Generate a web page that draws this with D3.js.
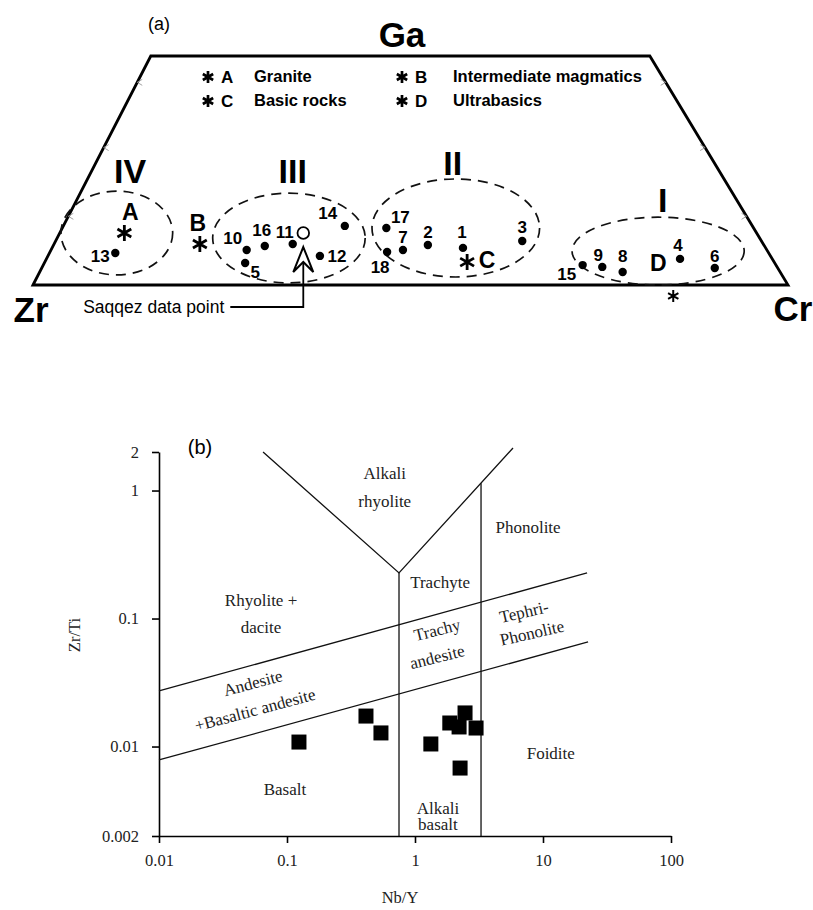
<!DOCTYPE html>
<html><head><meta charset="utf-8">
<script src="https://cdn.jsdelivr.net/npm/d3@7"></script>
<style>body{margin:0;background:#fff}</style>
</head><body>
<svg id="c" width="813" height="910"></svg>
<script>
// ================= DATA =================
// ---- Panel (a): Zr–Ga–Cr diagram, positions in diagram units (u along Zr→Cr base, v up toward Ga) ----
const frameCorners = [[0,0],[15.6,100],[81.7,100],[100,0]];
const sampleIds = ["1","2","3","4","5","6","7","8","9","10","11","12","13","14","15","16","17","18"];
const sampleU   = [56.95,52.3,64.8,85.7,28.1,90.3,49.0,78.1,75.4,28.3,34.4,38.0,10.9,41.3,72.8,30.7,46.8,46.9];
const sampleV   = [16.2,17.5,19.2,11.4,9.6,7.4,15.3,5.7,7.9,15.3,17.9,12.7,14.0,25.8,8.7,17.0,24.9,14.4];
const refIds = ["A","B","C","D"];
const refU   = [12.1,22.1,57.5,84.8];
const refV   = [22.7,17.9,10.0,-4.8];
const legendLetters = ["A","C","B","D"];
const legendNames   = ["Granite","Basic rocks","Intermediate magmatics","Ultrabasics"];
const fieldNames = ["IV","III","II","I"];
const fieldCU = [11.1,33.9,56.0,82.8];
const fieldCV = [22.7,20.5,24.9,14.8];
const fieldRU = [7.4,10.1,11.1,11.4];
const fieldRV = [18.3,19.6,21.4,14.8];
const saqqez = [35.8,22.7];

// ---- Panel (b): Zr/Ti vs Nb/Y ----
const nbY  = [0.124,0.414,0.542,1.33,1.87,2.46,2.21,3.0,2.25];
const zrTi = [0.01084,0.0173,0.01277,0.01047,0.01527,0.0183,0.01422,0.01395,0.00679];
const xTicks = [0.01,0.1,1,10,100];
const yTicks = [0.002,0.01,0.1,1,2];
const upperDiag = [[0.01,0.0272],[22.1,0.227]];
const lowerDiag = [[0.01,0.00785],[22.5,0.0656]];
const vLine     = [[0.065,2.0],[0.75,0.227],[5.83,2.15]];
const leftVert  = [[0.75,0.227],[0.75,0.002]];
const rightVert = [[3.28,1.14],[3.28,0.002]];
const fieldText = ["Alkali","rhyolite","Phonolite","Trachyte","Rhyolite +","dacite","Trachy","andesite","Tephri-","Phonolite","Andesite","+Basaltic andesite","Basalt","Alkali","basalt","Foidite"];
const fieldX    = [0.58,0.58,7.64,1.57,0.0627,0.0627,1.49,1.49,7.11,8.2,0.0542,0.0562,0.0964,1.51,1.51,11.5];
const fieldY    = [1.37,0.828,0.519,0.19,0.1396,0.0859,0.0813,0.05,0.1125,0.077,0.0313,0.0193,0.00466,0.00331,0.00248,0.0089];
const fieldRot  = [0,0,0,0,0,0,-14,-14,-13,-13,-15,-15,0,0,0,0];

// ================= DRAW =================
const svg = d3.select("#c");
const SANS = "'Liberation Sans', Arial, Helvetica, sans-serif";
const SERIF = "'Liberation Serif', 'Times New Roman', serif";

// ---------- Panel (a) ----------
const u = d3.scaleLinear().domain([0,100]).range([33,788]);
const v = d3.scaleLinear().domain([0,100]).range([285,56]);
const A = svg.append("g");

A.append("text").attr("x",159).attr("y",30).attr("text-anchor","middle")
 .attr("font-family",SANS).attr("font-size",18).text("(a)");

A.append("path")
 .attr("d", d3.line().x(d=>u(d[0])).y(d=>v(d[1]))(frameCorners)+"Z")
 .attr("fill","none").attr("stroke","#000").attr("stroke-width",2.8).attr("stroke-linejoin","miter");

// small gray arrow marks along the sides
[30,60,88.5].forEach(t=>{
  const fL = t/100;
  const lx = u(frameCorners[0][0] + (frameCorners[1][0]-frameCorners[0][0])*fL), ly = v(t);
  A.append("path").attr("d",`M${lx+5},${ly-3}L${lx},${ly}L${lx+5},${ly+3}`)
   .attr("fill","none").attr("stroke","#999").attr("stroke-width",0.9);
  const rx = u(frameCorners[3][0] + (frameCorners[2][0]-frameCorners[3][0])*fL), ry = v(t);
  A.append("path").attr("d",`M${rx-5},${ry-3}L${rx},${ry}L${rx-5},${ry+3}`)
   .attr("fill","none").attr("stroke","#999").attr("stroke-width",0.9);
});

// apex labels
A.append("text").attr("x",402).attr("y",47).attr("text-anchor","middle")
 .attr("font-family",SANS).attr("font-weight","bold").attr("font-size",35).text("Ga");
A.append("text").attr("x",31).attr("y",322).attr("text-anchor","middle")
 .attr("font-family",SANS).attr("font-weight","bold").attr("font-size",35).text("Zr");
A.append("text").attr("x",793).attr("y",321).attr("text-anchor","middle")
 .attr("font-family",SANS).attr("font-weight","bold").attr("font-size",35).text("Cr");

// legend
const legX = [208,208,402,402], legY = [77,101,77,101];
legendLetters.forEach((L,i)=>{
  A.append("path").attr("transform",`translate(${legX[i]},${legY[i]})`)
   .attr("d", d3.symbol(d3.symbolAsterisk, 100)()).attr("stroke","#000").attr("stroke-width",2.7).attr("fill","none");
  A.append("text").attr("x",legX[i]+13).attr("y",legY[i]+6).attr("font-family",SANS)
   .attr("font-weight","bold").attr("font-size",17).text(L);
  A.append("text").attr("x",legX[i]+46+(i>1?5:0)).attr("y",legY[i]+5).attr("font-family",SANS)
   .attr("font-weight","bold").attr("font-size",16.5).text(legendNames[i]);
});

// field ellipses
A.selectAll("ellipse.field").data(fieldNames).join("ellipse").attr("class","field")
 .attr("cx",(d,i)=>u(fieldCU[i])).attr("cy",(d,i)=>v(fieldCV[i]))
 .attr("rx",(d,i)=>u(fieldRU[i])-u(0)).attr("ry",(d,i)=>v(0)-v(fieldRV[i]))
 .attr("fill","none").attr("stroke","#111").attr("stroke-width",1.7).attr("stroke-dasharray","10,7");

// field labels (above ellipses)
const fieldLabU = [12.85,34.4,55.6,83.4], fieldLabV = [49.8,49.8,53.3,37.1];
fieldNames.forEach((n,i)=>{
  A.append("text").attr("x",u(fieldLabU[i])).attr("y",v(fieldLabV[i])+12).attr("text-anchor","middle")
   .attr("font-family",SANS).attr("font-weight","bold").attr("font-size",34).text(n);
});

// sample points
A.selectAll("circle.s").data(sampleIds).join("circle").attr("class","s")
 .attr("cx",(d,i)=>u(sampleU[i])).attr("cy",(d,i)=>v(sampleV[i])).attr("r",4.2).attr("fill","#000");
const numOff = {"1":[-1,-16],"2":[0,-13],"3":[0,-14],"4":[-2,-14],"5":[10,9],"6":[0,-12],"7":[0,-13],"8":[0,-16],
  "9":[-4,-12],"10":[-14,-12],"11":[-8,-12],"12":[17,0],"13":[-15,3],"14":[-17,-13],"15":[-16,9],"16":[-3,-16],"17":[14,-11],"18":[-7,15]};
sampleIds.forEach((id,i)=>{
  const o = numOff[id];
  A.append("text").attr("x",u(sampleU[i])+o[0]).attr("y",v(sampleV[i])+o[1]+6).attr("text-anchor","middle")
   .attr("font-family",SANS).attr("font-weight","bold").attr("font-size",17).text(id);
});

// reference compositions
const refSize = [180,180,180,100];
refIds.forEach((id,i)=>{
  A.append("path").attr("transform",`translate(${u(refU[i])},${v(refV[i])})`)
   .attr("d", d3.symbol(d3.symbolAsterisk, refSize[i])()).attr("stroke","#000")
   .attr("stroke-width", i===3?2:2.8).attr("fill","none");
});
const refOff = [[6,-21],[-2,-21],[20,-2],[-15,-33]];
refIds.forEach((id,i)=>{
  A.append("text").attr("x",u(refU[i])+refOff[i][0]).attr("y",v(refV[i])+refOff[i][1]+8).attr("text-anchor","middle")
   .attr("font-family",SANS).attr("font-weight","bold").attr("font-size",23).text(id);
});

// Saqqez point and annotation
const sx = u(saqqez[0]), sy = v(saqqez[1]);
A.append("path").attr("d",`M${sx},${sy+29}L${sx},${sy+74}L${sx-73},${sy+74}`)
 .attr("fill","none").attr("stroke","#000").attr("stroke-width",1.8);
A.append("path").attr("d",`M${sx},${sy+14}L${sx+10},${sy+39}L${sx},${sy+29}L${sx-10},${sy+39}Z`)
 .attr("fill","#fff").attr("stroke","#000").attr("stroke-width",2).attr("stroke-linejoin","miter");
A.append("circle").attr("cx",sx).attr("cy",sy).attr("r",5.8).attr("fill","#fff").attr("stroke","#000").attr("stroke-width",1.8);
A.append("text").attr("x",sx-79).attr("y",sy+80).attr("text-anchor","end")
 .attr("font-family",SANS).attr("font-size",17.5).text("Saqqez data point");

// ---------- Panel (b) ----------
const x = d3.scaleLog().domain([0.01,100]).range([159,671]);
const y = d3.scaleLog().domain([0.002,2]).range([836,452]);
const B = svg.append("g");

B.append("text").attr("x",200).attr("y",454).attr("text-anchor","middle")
 .attr("font-family",SANS).attr("font-size",20).text("(b)");

const fmt = d => String(d);
const gx = B.append("g").attr("transform","translate(0,836)")
 .call(d3.axisBottom(x).tickValues(xTicks).tickFormat(fmt).tickSize(7).tickSizeOuter(0).tickPadding(11));
const gy = B.append("g").attr("transform","translate(159,0)")
 .call(d3.axisLeft(y).tickValues(yTicks).tickFormat(fmt).tickSize(7).tickSizeOuter(0).tickPadding(13));
[gx,gy].forEach(g=>{
  g.selectAll("path,line").attr("stroke","#000").attr("stroke-width",1.6);
  g.selectAll("text").attr("font-family",SERIF).attr("font-size",16.5).attr("fill","#222");
});

const ll = d3.line().x(d=>x(d[0])).y(d=>y(d[1]));
[upperDiag,lowerDiag,vLine,leftVert,rightVert].forEach(pts=>{
  B.append("path").attr("d",ll(pts)).attr("fill","none").attr("stroke","#111").attr("stroke-width",1.3);
});

fieldText.forEach((t,i)=>{
  const px = x(fieldX[i]), py = y(fieldY[i]);
  B.append("text").attr("transform",`translate(${px},${py}) rotate(${fieldRot[i]})`)
   .attr("text-anchor","middle").attr("dy","0.33em")
   .attr("font-family",SERIF).attr("font-size",17).attr("fill","#222").text(t);
});

B.selectAll("rect.d").data(nbY).join("rect").attr("class","d")
 .attr("x",(d,i)=>x(d)-7.5).attr("y",(d,i)=>y(zrTi[i])-7.5).attr("width",15).attr("height",15).attr("fill","#000");

B.append("text").attr("transform","translate(75,635) rotate(-90)").attr("text-anchor","middle").attr("dy","0.33em")
 .attr("font-family",SERIF).attr("font-size",16.5).attr("fill","#222").text("Zr/Ti");
B.append("text").attr("x",400).attr("y",903).attr("text-anchor","middle")
 .attr("font-family",SERIF).attr("font-size",16.5).attr("fill","#222").text("Nb/Y");
</script>
</body></html>
